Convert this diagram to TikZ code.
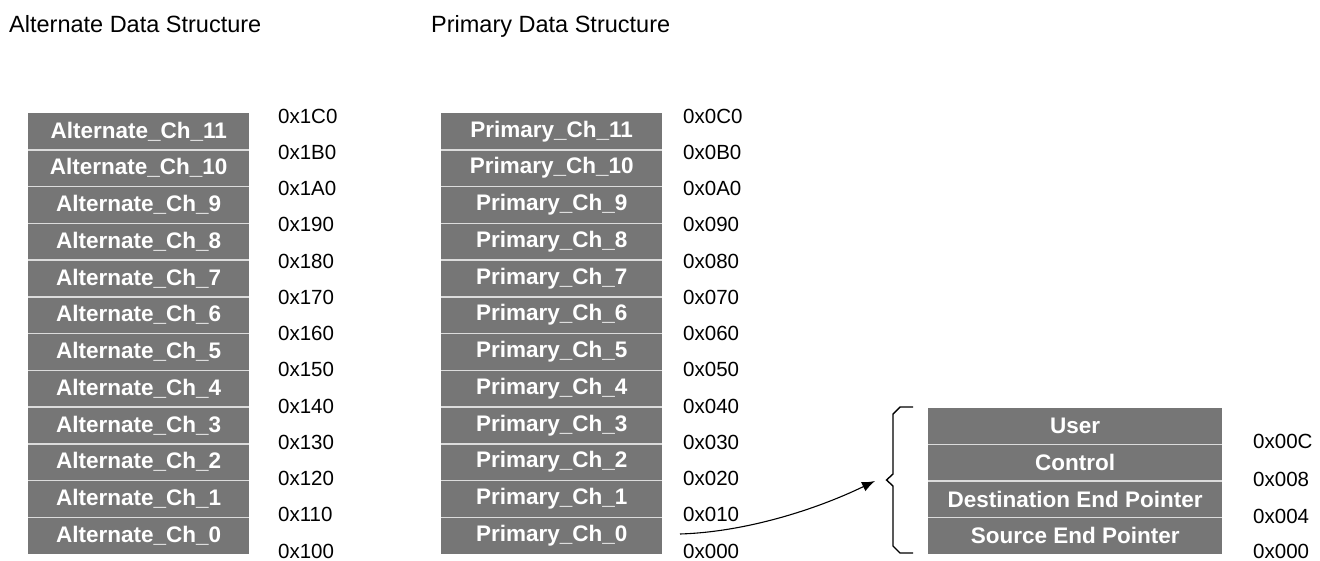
\documentclass[tikz,border=0pt]{standalone}
\usepackage{fontspec}
\setmainfont{Liberation Sans}
\usetikzlibrary{arrows.meta}
\definecolor{boxgray}{RGB}{118,118,118}
\definecolor{divgray}{RGB}{220,220,220}
\begin{document}
\begin{tikzpicture}[x=1pt,y=-1pt,
  cell/.style={fill=boxgray, text=white, inner sep=0pt, anchor=north west,
    minimum height=36.75pt, font=\fontsize{22.5}{24}\selectfont\bfseries},
  lcell/.style={cell, minimum width=221pt},
  rcell/.style={cell, minimum width=294pt, minimum height=36.6pt},
  divider/.style={draw=divgray, line width=1.5pt},
  addr/.style={anchor=west, inner sep=0pt, font=\fontsize{20.5}{24}\selectfont},
  title/.style={anchor=base west, inner sep=0pt, font=\fontsize{23.5}{26}\selectfont},
  bracel/.style={draw=black, line width=1.4pt, line join=miter},
  ptr/.style={draw=black, line width=1.1pt, -{Latex[length=13pt,width=10pt]}}
]
\useasboundingbox (0,0) rectangle (1320,561);

\node[title] (t1) at (9,33) {Alternate Data Structure};
\node[title] (t2) at (431,33) {Primary Data Structure};

% Alternate column
\foreach \i in {0,...,11}{
  \node[lcell] (a\i) at (28,{112.7+(11-\i)*36.75}) {Alternate\_Ch\_\i};
}
\foreach \i in {1,...,11}{
  \draw[divider] (a\i.south west) -- (a\i.south east);
}
% Primary column
\foreach \i in {0,...,11}{
  \node[lcell] (p\i) at (441,{112.7+(11-\i)*36.75}) {Primary\_Ch\_\i};
}
\foreach \i in {1,...,11}{
  \draw[divider] (p\i.south west) -- (p\i.south east);
}
% addresses
\foreach \lab [count=\k from 0] in {1C0,1B0,1A0,190,180,170,160,150,140,130,120,110,100}{
  \node[addr] (la\k) at (278,{116+\k*36.25}) {0x\lab};
}
\foreach \lab [count=\k from 0] in {0C0,0B0,0A0,090,080,070,060,050,040,030,020,010,000}{
  \node[addr] (lp\k) at (683,{116+\k*36.25}) {0x\lab};
}

% Right block
\node[rcell] (user) at (928,407.3) {User};
\node[rcell] (ctrl) at (928,443.9) {Control};
\node[rcell] (dest) at (928,480.5) {Destination End Pointer};
\node[rcell] (src)  at (928,517.1) {Source End Pointer};
\foreach \n in {user,ctrl,dest}{
  \draw[divider] (\n.south west) -- (\n.south east);
}
\node[addr] (r1) at (1253,441) {0x00C};
\node[addr] (r2) at (1253,479) {0x008};
\node[addr] (r3) at (1253,516) {0x004};
\node[addr] (r4) at (1253,551) {0x000};

% Brace
\coordinate (btip) at (886.5,480);
\draw[bracel] (913,407) -- (900,407) -- (893,414) -- (893,474) -- (btip) -- (893,486) -- (893,546) -- (900,553) -- (913,553);

% Pointer arrow
\coordinate (pstart) at (680,534);
\coordinate (pend) at (875,481);
\draw[ptr] (pstart) .. controls (745,532) and (815,510) .. (pend);
\end{tikzpicture}
\end{document}
